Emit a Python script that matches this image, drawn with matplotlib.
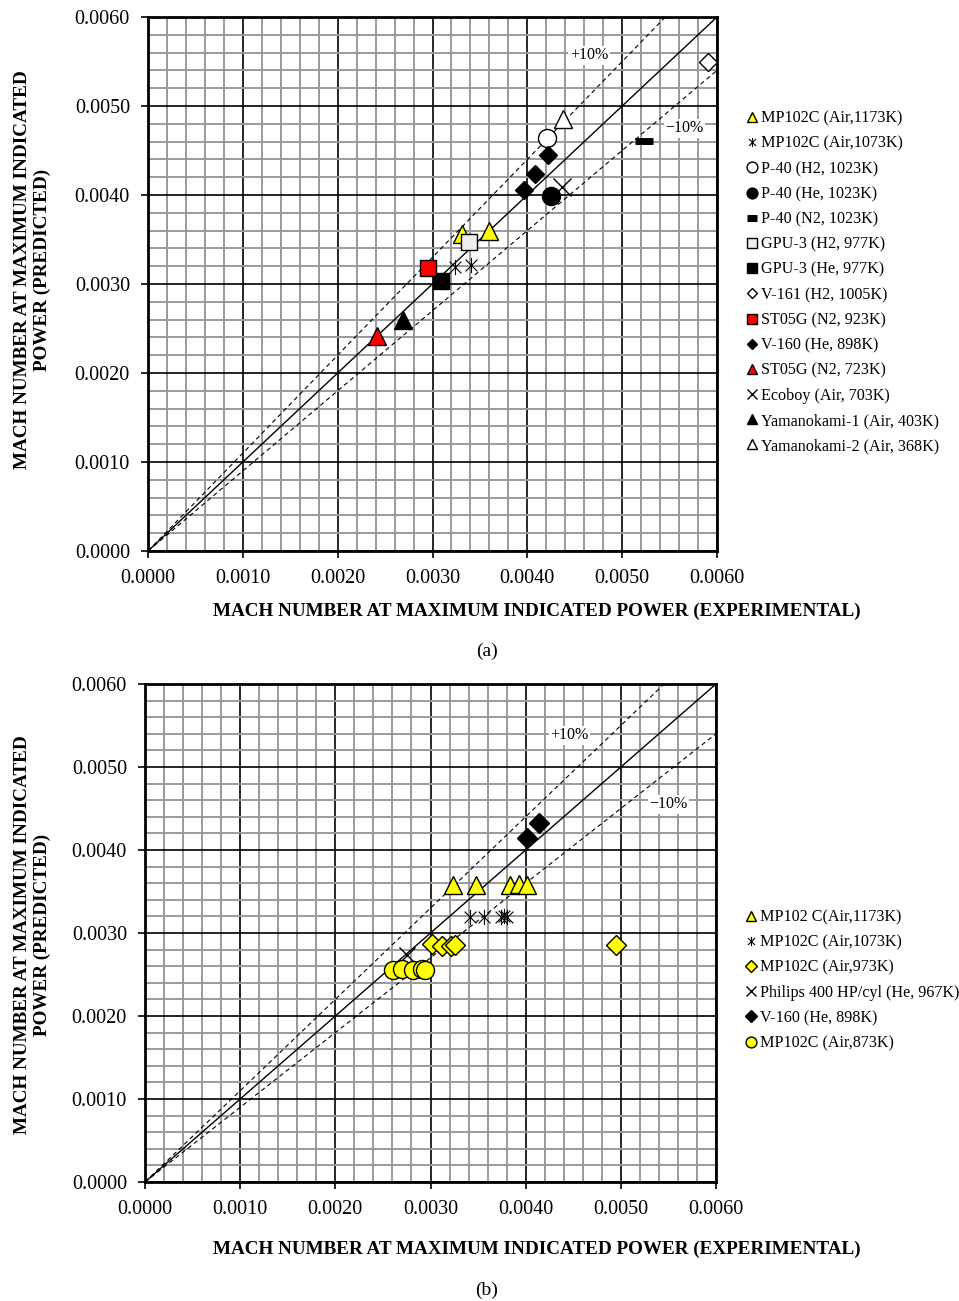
import numpy as np
import matplotlib
matplotlib.use("Agg")
import matplotlib.pyplot as plt
from matplotlib.path import Path
from matplotlib.ticker import MultipleLocator

plt.rcParams['font.family'] = ['Liberation Serif', 'DejaVu Serif']

# Excel style asterisk: an x with a vertical bar
star = Path([(-1, -1), (1, 1), (-1, 1), (1, -1), (0, -1.3), (0, 1.3)],
            [Path.MOVETO, Path.LINETO, Path.MOVETO, Path.LINETO, Path.MOVETO, Path.LINETO])

# ---- panel (a) data ----
a_labels = ["MP102C (Air,1173K)", "MP102C (Air,1073K)", "P-40 (H2, 1023K)", "P-40 (He, 1023K)",
            "P-40 (N2, 1023K)", "GPU-3 (H2, 977K)", "GPU-3 (He, 977K)", "V-161 (H2, 1005K)",
            "ST05G (N2, 923K)", "V-160 (He, 898K)", "ST05G (N2, 723K)", "Ecoboy (Air, 703K)",
            "Yamanokami-1 (Air, 403K)", "Yamanokami-2 (Air, 368K)"]
a_x = [[0.00331, 0.00360], [0.00324, 0.00341], [0.00421], [0.00425], [0.00523], [0.00339],
       [0.00309], [0.00591], [0.00295], [0.00422, 0.00408, 0.00396], [0.00242], [0.00437],
       [0.00269], [0.00438]]
a_y = [[0.00356, 0.00360], [0.00319, 0.00321], [0.00464], [0.00399], [0.00461], [0.00347],
       [0.00303], [0.00549], [0.00318], [0.00445, 0.00424, 0.00406], [0.00242], [0.00409],
       [0.00260], [0.00485]]

# ---- panel (b) data ----
b_labels = ["MP102 C(Air,1173K)", "MP102C (Air,1073K)", "MP102C (Air,973K)",
            "Philips 400 HP/cyl (He, 967K)", "V-160 (He, 898K)", "MP102C (Air,873K)"]
b_x = [[0.00324, 0.00348, 0.00384, 0.00393, 0.00401],
       [0.00342, 0.00356, 0.00374, 0.00377, 0.00380],
       [0.00302, 0.00312, 0.00322, 0.00326, 0.00495],
       [0.00275],
       [0.00414, 0.00401],
       [0.00261, 0.00270, 0.00282, 0.00291, 0.00294]]
b_y = [[0.00358, 0.00358, 0.00358, 0.00359, 0.00358],
       [0.00319, 0.00319, 0.00319, 0.00320, 0.00319],
       [0.00287, 0.00284, 0.00284, 0.00286, 0.00285],
       [0.00273],
       [0.00433, 0.00414],
       [0.00255, 0.00257, 0.00255, 0.00257, 0.00256]]

# marker styles: (marker, facecolor, size, edgewidth)
a_style = [("^", "#ffff00", 13, 1), (star, "none", 11, 0.8), ("o", "white", 13, 1), ("o", "black", 13, 1),
           ("_", "black", 13, 5), ("s", "#eeeeee", 12, 1), ("s", "black", 12, 1), ("D", "white", 9, 1),
           ("s", "#ff0000", 12, 1), ("D", "black", 9, 1), ("^", "#ff0000", 13, 1), ("x", "none", 13, 1),
           ("^", "black", 13, 1), ("^", "white", 13, 1)]
b_style = [("^", "#ffff00", 13, 1), (star, "none", 11, 0.8), ("D", "#ffff00", 10, 1),
           ("x", "none", 11, 1), ("D", "black", 10, 1), ("o", "#ffff00", 13, 1)]

lbl_font = dict(fontsize=13.8, fontweight="bold")


def draw_panel(ax, labels, xs, ys, styles, plus_pos, minus_pos, xlab_xy, ylab_xy, leg_y):
    ax.set_xlim(0, 0.006)
    ax.set_ylim(0, 0.006)
    ax.xaxis.set_major_locator(MultipleLocator(0.001))
    ax.yaxis.set_major_locator(MultipleLocator(0.001))
    ax.xaxis.set_minor_locator(MultipleLocator(0.0002))
    ax.yaxis.set_minor_locator(MultipleLocator(0.0002))
    ax.grid(which="minor", color="#9a9a9a", lw=1.4)
    ax.grid(which="major", color="black", lw=1.2)
    ax.set_axisbelow(True)
    ax.tick_params(which="minor", length=0)
    ax.tick_params(which="major", direction="out", length=5, width=1.2, labelsize=14.5, pad=8)
    ax.xaxis.set_major_formatter(lambda v, p: f"{v:.4f}")
    ax.yaxis.set_major_formatter(lambda v, p: f"{v:.4f}")
    for s in ax.spines.values():
        s.set_linewidth(2)

    line = np.array([0, 0.006])
    ax.plot(line, line, color="black", lw=1, zorder=2)
    ax.plot(line, 1.1 * line, color="black", lw=0.8, ls=(0, (4, 3)), zorder=2)
    ax.plot(line, 0.9 * line, color="black", lw=0.8, ls=(0, (4, 3)), zorder=2)
    ax.text(*plus_pos, "+10%", fontsize=11.5, ha="center", va="center",
            bbox=dict(fc="white", ec="none", pad=1), zorder=3)
    ax.text(*minus_pos, "\u221210%", fontsize=11.5, ha="center", va="center",
            bbox=dict(fc="white", ec="none", pad=1), zorder=3)

    for lab, x, y, (m, fc, ms, mew) in zip(labels, xs, ys, styles):
        ax.plot(x, y, ls="none", marker=m, ms=ms, mfc=fc, mec="black", mew=mew,
                label=lab, zorder=4, clip_on=False)

    ax.set_xlabel("MACH NUMBER AT MAXIMUM INDICATED POWER (EXPERIMENTAL)", **lbl_font)
    ax.xaxis.set_label_coords(*xlab_xy)
    ax.set_ylabel("MACH NUMBER AT MAXIMUM INDICATED\nPOWER (PREDICTED)",
                  linespacing=1.25, **lbl_font)
    ax.yaxis.set_label_coords(*ylab_xy)
    ax.legend(loc="center left", bbox_to_anchor=(1.04, leg_y), frameon=False, fontsize=11.6,
              markerscale=0.6, handlelength=0.7, handletextpad=0.2, borderaxespad=0,
              labelspacing=0.57)


fig = plt.figure(figsize=(9.59, 13.01), dpi=100)
ax1 = fig.add_axes([148 / 959, 1 - 551 / 1301, 569 / 959, 534 / 1301])
ax2 = fig.add_axes([145 / 959, 1 - 1182 / 1301, 571 / 959, 498 / 1301])

draw_panel(ax1, a_labels, a_x, a_y, a_style, (0.00465, 0.00557), (0.00566, 0.00475),
           (0.684, -0.097), (-0.17, 0.526), 0.503)
draw_panel(ax2, b_labels, b_x, b_y, b_style, (0.00446, 0.00538), (0.00550, 0.00455),
           (0.686, -0.117), (-0.164, 0.496), 0.405)

fig.text(487 / 959, 1 - 651 / 1301, "(a)", fontsize=14, ha="center", va="center")
fig.text(487 / 959, 1 - 1290 / 1301, "(b)", fontsize=14, ha="center", va="center")

fig.savefig("out.png", dpi=100)
